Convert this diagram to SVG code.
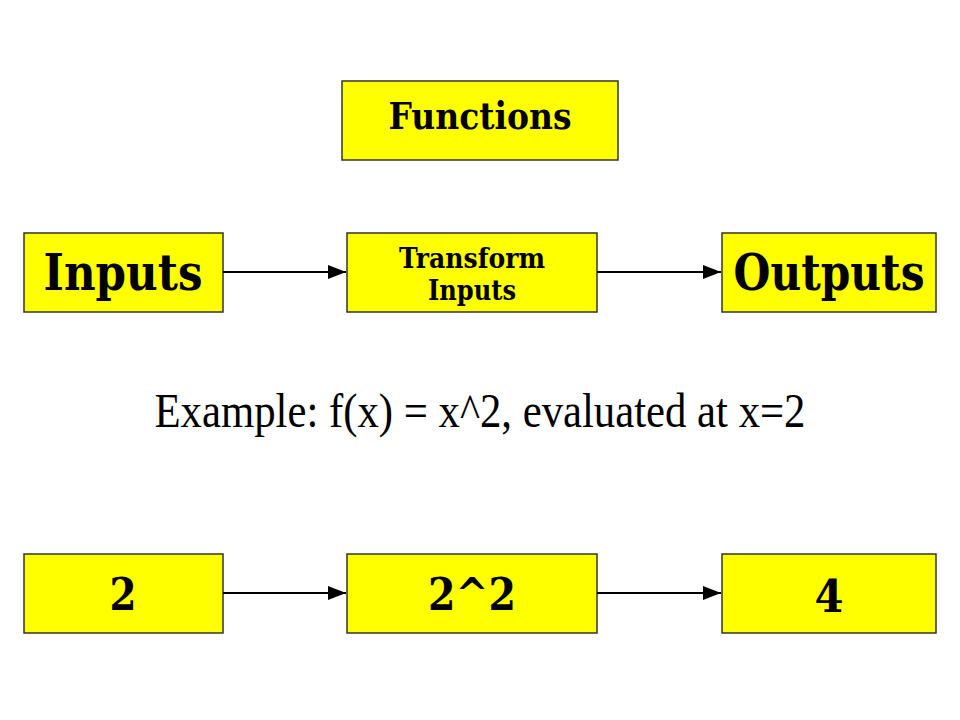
<svg xmlns="http://www.w3.org/2000/svg" width="960" height="720" viewBox="0 0 960 720">
<style>
.box{fill:#ffff00;stroke:#333;stroke-width:1.5}
.b{font-family:"DejaVu Serif",serif;font-weight:bold;fill:#000;text-anchor:middle}
.conn{stroke:#000;stroke-width:2;fill:none}
</style>
<defs>
<marker id="ah" markerWidth="10" markerHeight="8" refX="10" refY="4" orient="auto" markerUnits="userSpaceOnUse">
<path d="M0,0 L17,4 L0,8 Z" fill="#000" transform="scale(0.6,1)"/>
</marker>
<marker id="arr" viewBox="0 0 18 14" markerWidth="18" markerHeight="14" refX="18" refY="7" orient="auto" markerUnits="userSpaceOnUse">
<path d="M0,0 L18,7 L0,14 Z" fill="#000"/>
</marker>
</defs>
<rect width="960" height="720" fill="#fff"/>
<g id="functions"><rect class="box" x="342" y="81" width="276" height="79"/><text class="b" x="480" y="129" font-size="38" textLength="183" lengthAdjust="spacingAndGlyphs">Functions</text></g>
<g id="inputs"><rect class="box" x="24" y="233" width="199" height="79"/><text class="b" x="123" y="290" font-size="50" textLength="159" lengthAdjust="spacingAndGlyphs">Inputs</text></g>
<g id="transform"><rect class="box" x="347" y="233" width="250" height="79"/><text class="b" x="472" y="268" font-size="27" textLength="146" lengthAdjust="spacingAndGlyphs">Transform</text><text class="b" x="472" y="300" font-size="27" textLength="88" lengthAdjust="spacingAndGlyphs">Inputs</text></g>
<g id="outputs"><rect class="box" x="722" y="233" width="214" height="79"/><text class="b" x="829" y="290" font-size="50" textLength="191" lengthAdjust="spacingAndGlyphs">Outputs</text></g>
<text x="480" y="427" font-family="Liberation Serif,serif" font-size="48" text-anchor="middle" textLength="651" lengthAdjust="spacingAndGlyphs" fill="#000">Example: f(x) = x^2, evaluated at x=2</text>
<g id="n2"><rect class="box" x="24" y="554" width="199" height="79"/><text class="b" x="123" y="610" font-size="44" textLength="27" lengthAdjust="spacingAndGlyphs">2</text></g>
<g id="n22"><rect class="box" x="347" y="554" width="250" height="79"/><text class="b" x="472" y="610" font-size="44" textLength="88" lengthAdjust="spacingAndGlyphs">2^2</text></g>
<g id="n4"><rect class="box" x="722" y="554" width="214" height="79"/><text class="b" x="829" y="612" font-size="44" textLength="29" lengthAdjust="spacingAndGlyphs">4</text></g>
<g id="connectors">
<line class="conn" x1="223" y1="272" x2="346" y2="272" marker-end="url(#arr)"/>
<line class="conn" x1="597" y1="272" x2="721" y2="272" marker-end="url(#arr)"/>
<line class="conn" x1="223" y1="593" x2="346" y2="593" marker-end="url(#arr)"/>
<line class="conn" x1="597" y1="593" x2="721" y2="593" marker-end="url(#arr)"/>
</g>
</svg>
